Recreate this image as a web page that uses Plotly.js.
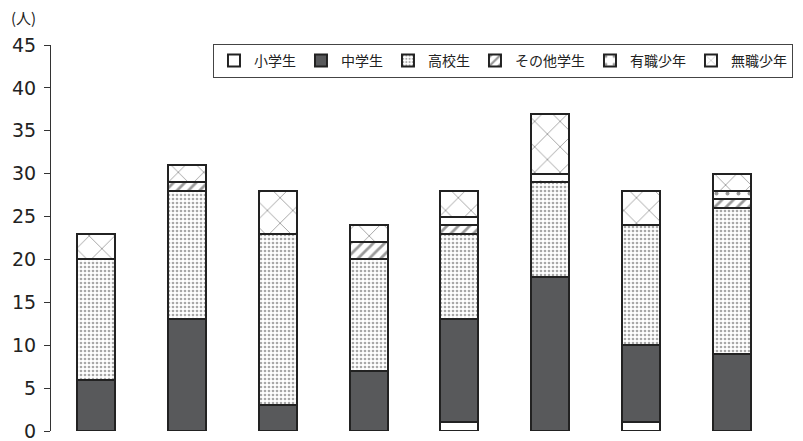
<!DOCTYPE html>
<html>
<head>
<meta charset="utf-8">
<script src="https://cdn.plot.ly/plotly-3.0.1.min.js"></script>
<style>html,body{margin:0;padding:0;background:#fff;}#chart{width:803px;height:441px;}</style>
</head>
<body>
<div id="chart"></div>
<script>
const categories = ['1', '2', '3', '4', '5', '6', '7', '8'];
const seriesNames = ['小学生', '中学生', '高校生', 'その他学生', '有職少年', '無職少年'];
const elementary = [null, null, null, null, 1, null, 1, null];
const juniorHigh = [6, 13, 3, 7, 12, 18, 9, 9];
const highSchool = [14, 15, 20, 13, 10, 11, 14, 17];
const otherStudent = [null, 1, null, 2, 1, null, null, 1];
const employed = [null, null, null, null, 1, 1, null, 1];
const unemployed = [3, 2, 5, 2, 3, 7, 4, 2];
const yTicks = [0, 5, 10, 15, 20, 25, 30, 35, 40, 45];

const outline = {color: '#222', width: 2};
const styles = [
  {color: '#ffffff', line: outline},
  {color: '#58595b', line: outline},
  {color: '#ffffff', line: outline, pattern: {shape: '.', fgcolor: '#a8a8a8', bgcolor: '#ffffff', size: 4, solidity: 0.35}},
  {color: '#ffffff', line: outline, pattern: {shape: '/', fgcolor: '#9a9a9a', bgcolor: '#ffffff', size: 8, solidity: 0.35}},
  {color: '#ffffff', line: outline, pattern: {shape: '.', fgcolor: '#9a9a9a', bgcolor: '#ffffff', size: 11, solidity: 0.1}},
  {color: '#ffffff', line: outline, pattern: {shape: 'x', fgcolor: '#a0a0a0', bgcolor: '#ffffff', size: 18, solidity: 0.1}}
];
const seriesValues = [elementary, juniorHigh, highSchool, otherStudent, employed, unemployed];

const data = seriesValues.map((vals, i) => ({
  type: 'bar',
  name: seriesNames[i],
  x: categories,
  y: vals,
  marker: styles[i],
  hoverinfo: 'skip'
}));

const layout = {
  width: 803,
  height: 441,
  barmode: 'stack',
  bargap: 0.58,
  margin: {l: 51, r: 22, t: 45, b: 10},
  paper_bgcolor: '#ffffff',
  plot_bgcolor: '#ffffff',
  font: {family: '"Noto Sans CJK JP", "Noto Sans", sans-serif', color: '#222'},
  showlegend: true,
  legend: {
    orientation: 'h',
    x: 1.022, xanchor: 'right',
    y: 1.003, yanchor: 'top',
    bordercolor: '#444', borderwidth: 1,
    bgcolor: '#ffffff',
    font: {size: 14, color: '#222'},
    itemwidth: 30,
    traceorder: 'normal'
  },
  xaxis: {
    type: 'category',
    showticklabels: false,
    showline: false,
    showgrid: false,
    zeroline: false,
    ticks: ''
  },
  yaxis: {
    range: [0, 45],
    tickvals: yTicks,
    ticktext: yTicks.map(String),
    ticks: 'outside',
    ticklen: 6,
    tickcolor: '#333',
    tickwidth: 1,
    showline: true,
    linecolor: '#333',
    linewidth: 1,
    showgrid: false,
    zeroline: false,
    ticklabelstandoff: 4,
    ticklabeloverflow: 'allow',
    tickfont: {size: 19, color: '#222', family: '"DejaVu Sans", sans-serif'}
  },
  annotations: [{
    text: '(人)',
    xref: 'paper', yref: 'paper',
    x: -0.058, xanchor: 'left',
    y: 1.07, yanchor: 'middle',
    showarrow: false,
    font: {size: 15, color: '#222'}
  }]
};

Plotly.newPlot('chart', data, layout, {displayModeBar: false, staticPlot: true});
</script>
</body>
</html>
